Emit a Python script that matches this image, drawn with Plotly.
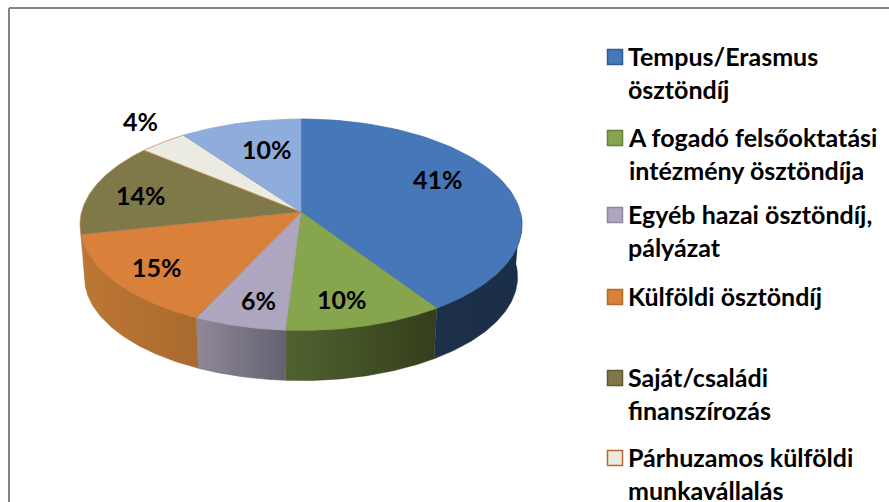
import numpy as np
import plotly.graph_objects as go

categories = [
    "Tempus/Erasmus<br>ösztöndíj",
    "A fogadó felsőoktatási<br>intézmény ösztöndíja",
    "Egyéb hazai ösztöndíj,<br>pályázat",
    "Külföldi ösztöndíj",
    "Saját/családi<br>finanszírozás",
    "Párhuzamos külföldi<br>munkavállalás",
    "",
]
values = [40.6, 10.4, 6.0, 14.6, 14.4, 4.0, 10.0]
labels = ["41%", "10%", "6%", "15%", "14%", "4%", "10%"]

top_colors = ["#4677b8", "#87a54d", "#ada6be", "#d9803b", "#7f794a", "#ecebe1", "#8eacdc"]
line_colors = ["#3f6ca6", "#7c9746", "#a39cb3", "#c4743a", "#c08050", "#c08050", "#86a3d0"]
marker_lines = ["#2f5a94", "#64803a", "#8d86a0", "#b06a2c", "#5f5a30", "#b5682f", ""]
wall_left = ["#1c3049", "#516330", "#8f899a", "#bd7634"]
wall_right = ["#1b2e47", "#343e1b", "#656170", "#a96a2e"]

label_pos = [(438, 179), (342, 299), (258, 300), (157, 267), (141, 195), (140, 121), (267, 149)]
legend_y = [57, 138, 215, 297, 378, 458]

# pie geometry, tilted circle with perspective
apex_x, apex_y = 301, 212
persp = 0.1206
rad_x, rad_y = 219.4, 104.2
depth_y = 264.5
depth_scale = 0.98


def rim(angles, bottom=False):
    a = np.radians(angles)
    w = 1 + persp * np.cos(a)
    x = rad_x * np.sin(a) / w
    y = rad_y * np.cos(a) / w
    if bottom:
        return apex_x + depth_scale * x, depth_y - depth_scale * y
    return apex_x + x, apex_y - y


edges = np.cumsum([0] + values) * 3.6

fig = go.Figure()

# side walls first, only the four front slices show one
for i in range(len(wall_left)):
    arc = np.linspace(max(edges[i], 90), edges[i + 1], 80)
    xt, yt = rim(arc)
    xb, yb = rim(arc[::-1], bottom=True)
    fig.add_trace(
        go.Scatter(
            x=np.r_[xt, xb],
            y=np.r_[yt, yb],
            mode="lines",
            fill="toself",
            fillgradient=dict(
                type="horizontal",
                colorscale=[[0, wall_left[i]], [1, wall_right[i]]],
            ),
            line=dict(color=wall_right[i], width=0.5),
            hoverinfo="skip",
        )
    )

# top faces
for i in range(len(values)):
    arc = np.linspace(edges[i], edges[i + 1], 80)
    xt, yt = rim(arc)
    fig.add_trace(
        go.Scatter(
            x=np.r_[apex_x, xt, apex_x],
            y=np.r_[apex_y, yt, apex_y],
            mode="lines",
            fill="toself",
            fillcolor=top_colors[i],
            line=dict(color=line_colors[i], width=0.7),
            hoverinfo="skip",
        )
    )

# legend keys
for i in range(len(legend_y)):
    fig.add_trace(
        go.Scatter(
            x=[615],
            y=[legend_y[i]],
            mode="markers",
            marker=dict(
                symbol="square",
                size=15,
                color=top_colors[i],
                line=dict(color=marker_lines[i], width=1.5),
            ),
            hoverinfo="skip",
        )
    )

for txt, (x, y) in zip(labels, label_pos):
    fig.add_annotation(
        x=x, y=y, text=f"<b>{txt}</b>", showarrow=False,
        font=dict(family="Lato", size=25, color="black"),
    )

for i in range(len(legend_y)):
    fig.add_annotation(
        x=626, y=legend_y[i] - 18, text=f"<b>{categories[i]}</b>", showarrow=False,
        xanchor="left", yanchor="top", align="left",
        font=dict(family="Lato", size=25, color="black"),
    )

# outer frame of the pasted chart
fig.add_shape(type="line", x0=9, x1=889, y0=8, y1=8, line=dict(color="#848484", width=2))
fig.add_shape(type="line", x0=9, x1=9, y0=8, y1=502, line=dict(color="#848484", width=2))

fig.update_layout(
    width=889,
    height=502,
    margin=dict(t=0, l=0, r=0, b=0),
    paper_bgcolor="white",
    plot_bgcolor="white",
    showlegend=False,
    xaxis=dict(range=[0, 889], visible=False),
    yaxis=dict(range=[502, 0], visible=False),
)
# the page's default body margin would push everything 8px over
fig.write_html(
    "out.html",
    config={"displayModeBar": False},
    post_script="document.body.style.margin='0';document.body.style.overflow='hidden';",
)
